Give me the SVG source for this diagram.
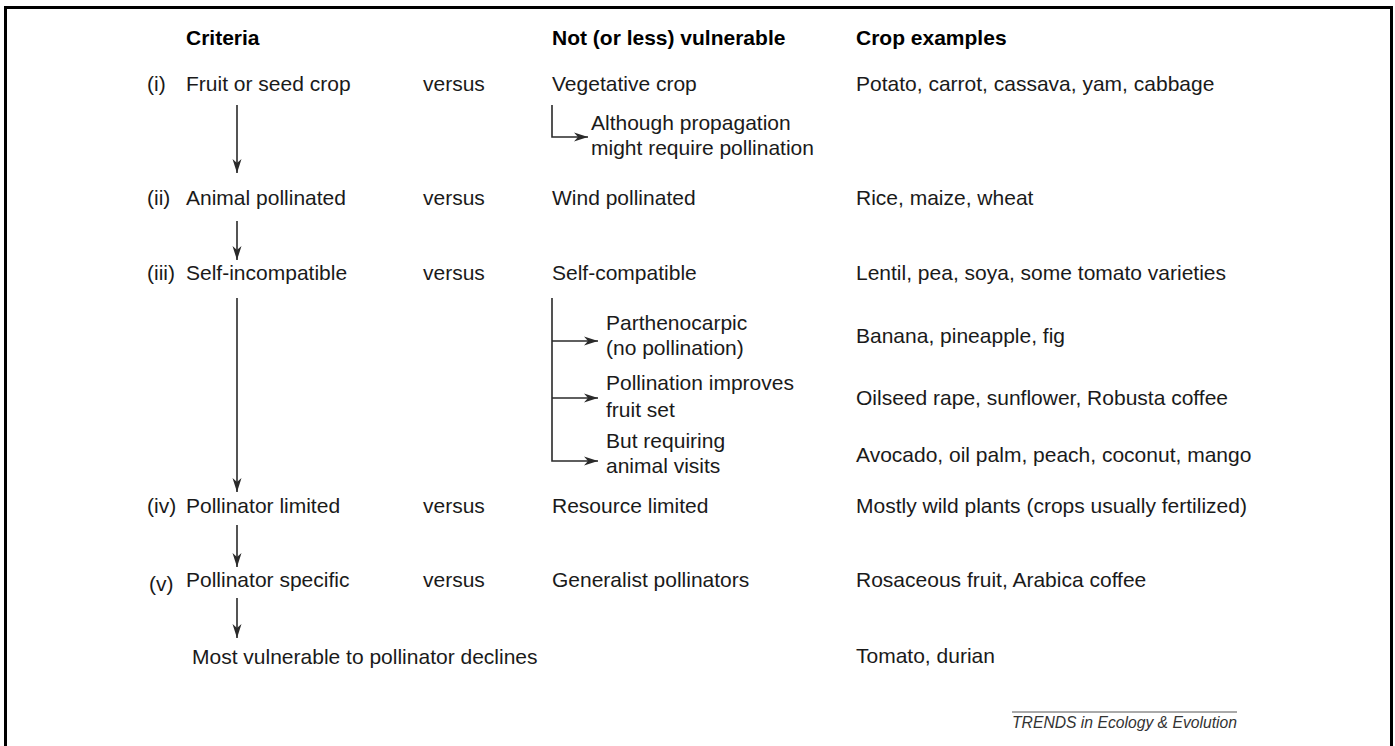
<svg xmlns="http://www.w3.org/2000/svg" width="1395" height="746" viewBox="0 0 1395 746">
<style>
text{font-family:"Liberation Sans",Arial,sans-serif;font-size:21px;fill:#1a1a1a}
.h{font-weight:bold;fill:#000}
.ft{font-style:italic;font-size:15.7px;fill:#333}
.c{stroke:#2a2a2a;stroke-width:1.6;fill:none}
</style>
<defs>
<marker id="ah" viewBox="0 0 14 10" refX="14" refY="5" markerWidth="14" markerHeight="10" markerUnits="userSpaceOnUse" orient="auto">
<path d="M0,0.5 L14,5 L0,9.5 L4,5 Z" fill="#2a2a2a"/>
</marker>
</defs>
<rect x="5.5" y="7.5" width="1386" height="760" fill="none" stroke="#000" stroke-width="3"/>
<g id="headers">
<text class="h" x="186" y="45">Criteria</text>
<text class="h" x="552" y="45">Not (or less) vulnerable</text>
<text class="h" x="856" y="45">Crop examples</text>
</g>
<g id="row1">
<text x="147" y="91">(i)</text>
<text x="186" y="91">Fruit or seed crop</text>
<text x="423" y="91">versus</text>
<text x="552" y="91">Vegetative crop</text>
<text x="856" y="91">Potato, carrot, cassava, yam, cabbage</text>
</g>
<g id="row1-note">
<text x="591" y="130">Although propagation</text>
<text x="591" y="155">might require pollination</text>
</g>
<g id="row2">
<text x="147" y="205">(ii)</text>
<text x="186" y="205">Animal pollinated</text>
<text x="423" y="205">versus</text>
<text x="552" y="205">Wind pollinated</text>
<text x="856" y="205">Rice, maize, wheat</text>
</g>
<g id="row3">
<text x="147" y="280">(iii)</text>
<text x="186" y="280">Self-incompatible</text>
<text x="423" y="280">versus</text>
<text x="552" y="280">Self-compatible</text>
<text x="856" y="280">Lentil, pea, soya, some tomato varieties</text>
</g>
<g id="row3-sub1">
<text x="606" y="330">Parthenocarpic</text>
<text x="606" y="355">(no pollination)</text>
<text x="856" y="343">Banana, pineapple, fig</text>
</g>
<g id="row3-sub2">
<text x="606" y="390">Pollination improves</text>
<text x="606" y="417">fruit set</text>
<text x="856" y="405">Oilseed rape, sunflower, Robusta coffee</text>
</g>
<g id="row3-sub3">
<text x="606" y="448">But requiring</text>
<text x="606" y="473">animal visits</text>
<text x="856" y="462">Avocado, oil palm, peach, coconut, mango</text>
</g>
<g id="row4">
<text x="147" y="513">(iv)</text>
<text x="186" y="513">Pollinator limited</text>
<text x="423" y="513">versus</text>
<text x="552" y="513">Resource limited</text>
<text x="856" y="513">Mostly wild plants (crops usually fertilized)</text>
</g>
<g id="row5">
<text x="149" y="591">(v)</text>
<text x="186" y="587">Pollinator specific</text>
<text x="423" y="587">versus</text>
<text x="552" y="587">Generalist pollinators</text>
<text x="856" y="587">Rosaceous fruit, Arabica coffee</text>
</g>
<g id="final">
<text x="192" y="664">Most vulnerable to pollinator declines</text>
<text x="856" y="663">Tomato, durian</text>
</g>
<g id="connectors">
<path class="c" d="M237,105 V173" marker-end="url(#ah)"/>
<path class="c" d="M237,221 V260" marker-end="url(#ah)"/>
<path class="c" d="M237,298 V492" marker-end="url(#ah)"/>
<path class="c" d="M237,525 V567" marker-end="url(#ah)"/>
<path class="c" d="M237,598 V638" marker-end="url(#ah)"/>
<path class="c" d="M552,105 V137 H588" marker-end="url(#ah)"/>
<path class="c" d="M552,298 V461 H598" marker-end="url(#ah)"/>
<path class="c" d="M552,341 H598" marker-end="url(#ah)"/>
<path class="c" d="M552,398 H598" marker-end="url(#ah)"/>
</g>
<g id="footer">
<line x1="1012" y1="712" x2="1237" y2="712" stroke="#555" stroke-width="1"/>
<text class="ft" x="1012" y="728">TRENDS in Ecology &amp; Evolution</text>
</g>
</svg>
